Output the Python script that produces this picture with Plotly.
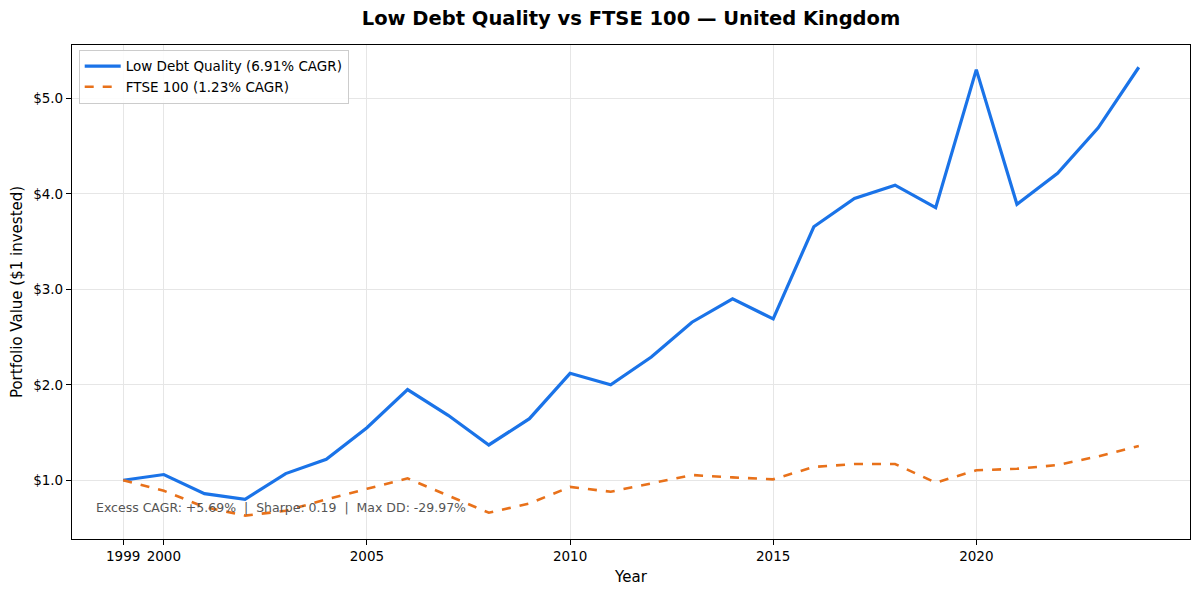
import plotly.graph_objects as go

years = list(range(1999, 2025))

low_debt = [1.00, 1.06, 0.86, 0.80, 1.07, 1.22, 1.55, 1.95, 1.68, 1.37,
            1.645, 2.12, 2.00, 2.29, 2.655, 2.90, 2.69, 3.655, 3.95, 4.09,
            3.855, 5.30, 3.89, 4.215, 4.69, 5.325]

ftse = [1.00, 0.89, 0.72, 0.63, 0.68, 0.80, 0.91, 1.02, 0.84, 0.66,
        0.757, 0.93, 0.88, 0.97, 1.055, 1.03, 1.01, 1.14, 1.17, 1.17,
        0.975, 1.105, 1.12, 1.16, 1.25, 1.36]

x_ticks = [1999, 2000, 2005, 2010, 2015, 2020]
y_ticks = [1.0, 2.0, 3.0, 4.0, 5.0]
y_labels = ["$1.0", "$2.0", "$3.0", "$4.0", "$5.0"]

FONT = "DejaVu Sans"

fig = go.Figure()
fig.add_trace(go.Scatter(
    x=years, y=low_debt, mode="lines",
    name="Low Debt Quality (6.91% CAGR)",
    line=dict(color="#1a73e8", width=3.2),
))
fig.add_trace(go.Scatter(
    x=years, y=ftse, mode="lines",
    name="FTSE 100 (1.23% CAGR)",
    line=dict(color="#e8711a", width=2.6, dash="dash"),
))

fig.add_annotation(
    x=0.02, y=0.063, xref="paper", yref="paper",
    xanchor="left", yanchor="middle", showarrow=False,
    text="Excess CAGR: +5.69%  |  Sharpe: 0.19  |  Max DD: -29.97%",
    font=dict(family=FONT, size=12.5, color="#555555"),
)

axis_common = dict(
    showline=True, linecolor="black", linewidth=1.2, mirror=True,
    ticks="outside", ticklen=5, tickwidth=1, tickcolor="black",
    showgrid=True, gridcolor="#e6e6e6", gridwidth=1,
    zeroline=False, automargin=False,
    tickfont=dict(family=FONT, size=13.5, color="black"),
)

# page body adds ~8px offset, so the figure is a little smaller than the window
fig.update_layout(
    width=1192, height=586,
    paper_bgcolor="white", plot_bgcolor="white",
    margin=dict(l=64, r=10, t=37, b=55),
    title=dict(
        text="<b>Low Debt Quality vs FTSE 100 — United Kingdom</b>",
        xref="paper", x=0.5, xanchor="center",
        yref="container", y=0.983, yanchor="middle",
        font=dict(family=FONT, size=19.5, color="black"),
    ),
    font=dict(family=FONT, color="black"),
    legend=dict(
        x=0.006, y=0.99, xanchor="left", yanchor="top",
        bgcolor="rgba(255,255,255,0.85)", bordercolor="#cccccc", borderwidth=1,
        font=dict(family=FONT, size=13.5, color="black"),
        itemwidth=36,
    ),
    xaxis=dict(
        axis_common,
        range=[1997.74, 2025.26],
        tickvals=x_ticks,
        title=dict(text="Year", font=dict(family=FONT, size=15), standoff=8),
    ),
    yaxis=dict(
        axis_common,
        range=[0.385, 5.558],
        tickvals=y_ticks,
        ticktext=y_labels,
        title=dict(text="Portfolio Value ($1 invested)", font=dict(family=FONT, size=15), standoff=6),
    ),
)

fig.write_html("out.html")
